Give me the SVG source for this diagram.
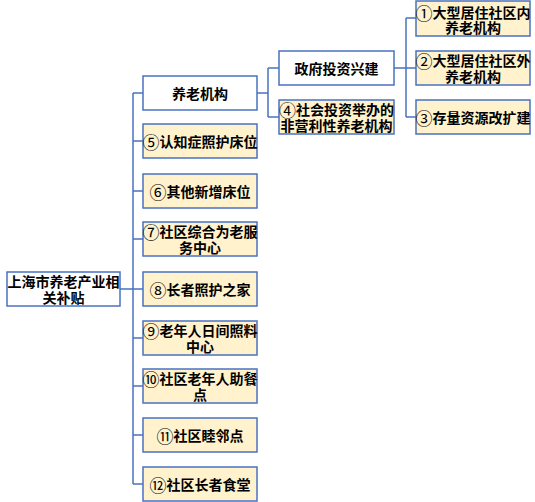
<svg xmlns="http://www.w3.org/2000/svg" width="535" height="502" viewBox="0 0 535 502">
<style>
.b{fill:#ffffff;stroke:#4a72c0;stroke-width:1.5}
.y{fill:#fff2cc;stroke:#4a72c0;stroke-width:1.5}
.c{fill:none;stroke:#4a72c0;stroke-width:1.5}
text{font-family:"Noto Sans CJK SC","Noto Sans",sans-serif;font-size:14px;font-weight:bold;fill:#000;text-anchor:middle;dominant-baseline:central}
.n{font-size:17px;font-weight:normal}
</style>
<rect width="535" height="502" fill="#ffffff"/>
<g id="connectors">
<path class="c" d="M120 289H133M133 93V484M133 93H143M133 141H143M133 191H143M133 239H143M133 289H143M133 338H143M133 386H143M133 435H143M133 484H143"/>
<path class="c" d="M257 93H268M268 68V117M268 68H279M268 117H279"/>
<path class="c" d="M394 68H406M406 18V117M406 18H416M406 68H416M406 117H416"/>
</g>
<g id="root"><rect class="b" x="7" y="272" width="113" height="34"/><text x="63.5" y="281">上海市养老产业相</text><text x="63.5" y="297">关补贴</text></g>
<g id="n-yljg"><rect class="b" x="143" y="76" width="114" height="34"/><text x="200" y="93">养老机构</text></g>
<g id="n5"><rect class="y" x="143" y="124" width="114" height="34"/><text x="200" y="141"><tspan class="n">⑤</tspan>认知症照护床位</text></g>
<g id="n6"><rect class="y" x="143" y="174" width="114" height="34"/><text x="200" y="191"><tspan class="n">⑥</tspan>其他新增床位</text></g>
<g id="n7"><rect class="y" x="143" y="222" width="114" height="34"/><text x="200" y="231"><tspan class="n">⑦</tspan>社区综合为老服</text><text x="200" y="247">务中心</text></g>
<g id="n8"><rect class="y" x="143" y="272" width="114" height="34"/><text x="200" y="289"><tspan class="n">⑧</tspan>长者照护之家</text></g>
<g id="n9"><rect class="y" x="143" y="321" width="114" height="34"/><text x="200" y="330"><tspan class="n">⑨</tspan>老年人日间照料</text><text x="200" y="346">中心</text></g>
<g id="n10"><rect class="y" x="143" y="369" width="114" height="34"/><text x="200" y="378"><tspan class="n">⑩</tspan>社区老年人助餐</text><text x="200" y="394">点</text></g>
<g id="n11"><rect class="y" x="143" y="418" width="114" height="34"/><text x="200" y="435"><tspan class="n">⑪</tspan>社区睦邻点</text></g>
<g id="n12"><rect class="y" x="143" y="467" width="114" height="34"/><text x="200" y="484"><tspan class="n">⑫</tspan>社区长者食堂</text></g>
<g id="n-zf"><rect class="b" x="279" y="51" width="115" height="34"/><text x="336.5" y="68">政府投资兴建</text></g>
<g id="n4"><rect class="y" x="279" y="100" width="115" height="34"/><text x="336.5" y="109"><tspan class="n">④</tspan>社会投资举办的</text><text x="336.5" y="125">非营利性养老机构</text></g>
<g id="n1"><rect class="y" x="416" y="1" width="114" height="35"/><text x="473" y="11.5"><tspan class="n">①</tspan>大型居住社区内</text><text x="473" y="27">养老机构</text></g>
<g id="n2"><rect class="y" x="416" y="51" width="114" height="34"/><text x="473" y="60"><tspan class="n">②</tspan>大型居住社区外</text><text x="473" y="76">养老机构</text></g>
<g id="n3"><rect class="y" x="416" y="100" width="114" height="34"/><text x="473" y="117"><tspan class="n">③</tspan>存量资源改扩建</text></g>
</svg>
